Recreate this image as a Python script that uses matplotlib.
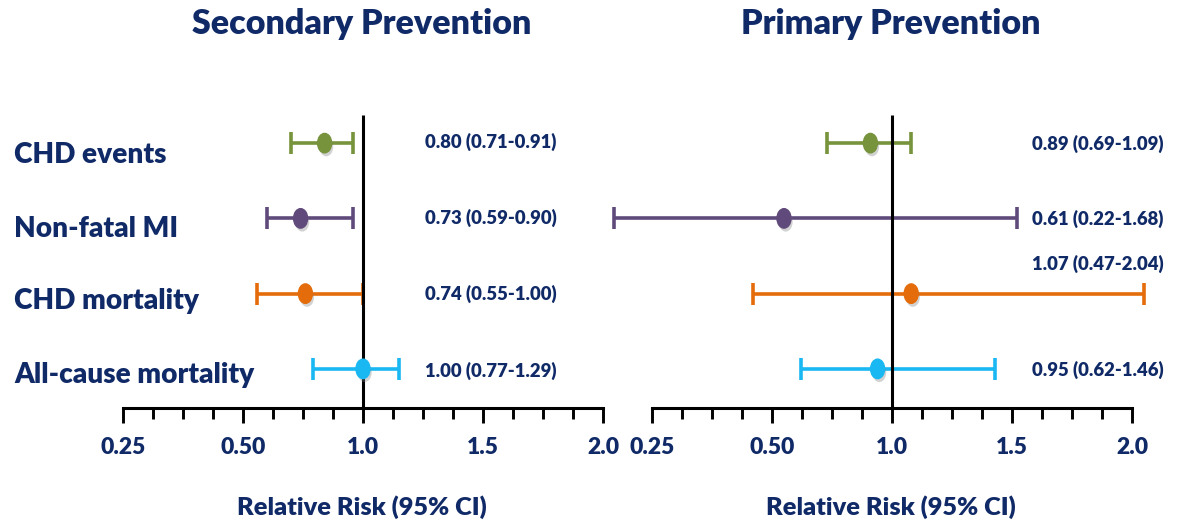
import numpy as np
import matplotlib
matplotlib.use("Agg")
import matplotlib.pyplot as plt
import matplotlib.patheffects as pe
from matplotlib.path import Path
from matplotlib.transforms import blended_transform_factory

# ---------------- data ----------------
outcomes = ["CHD events", "Non-fatal MI", "CHD mortality", "All-cause mortality"]
colors = ["#77933c", "#604a7b", "#e46c0a", "#1ab8f2"]

sec_est = [0.84, 0.74, 0.76, 1.00]
sec_lo = [0.70, 0.60, 0.56, 0.79]
sec_hi = [0.96, 0.96, 1.00, 1.15]
sec_text = ["0.80 (0.71-0.91)", "0.73 (0.59-0.90)", "0.74 (0.55-1.00)", "1.00 (0.77-1.29)"]

pri_est = [0.91, 0.55, 1.08, 0.94]
pri_lo = [0.73, 0.17, 0.46, 0.62]
pri_hi = [1.08, 1.52, 2.05, 1.43]
pri_text = ["0.89 (0.69-1.09)", "0.61 (0.22-1.68)", "1.07 (0.47-2.04)", "0.95 (0.62-1.46)"]

tick_values = [0.25, 0.5, 1.0, 1.5, 2.0]
tick_labels = ["0.25", "0.50", "1.0", "1.5", "2.0"]
titles = ["Secondary Prevention", "Primary Prevention"]
xlabel = "Relative Risk (95% CI)"

# ---------------- scale ----------------
KN = np.array(tick_values)
PS = np.arange(len(KN), dtype=float)

def fwd(x):
    x = np.asarray(x, dtype=float)
    out = np.interp(x, KN, PS)
    out = np.where(x < KN[0], (x - KN[0]) / (KN[1] - KN[0]), out)
    out = np.where(x > KN[-1], PS[-1] + (x - KN[-1]) / (KN[-1] - KN[-2]), out)
    return out

def inv(y):
    y = np.asarray(y, dtype=float)
    out = np.interp(y, PS, KN)
    out = np.where(y < 0, KN[0] + y * (KN[1] - KN[0]), out)
    out = np.where(y > PS[-1], KN[-1] + (y - PS[-1]) * (KN[-1] - KN[-2]), out)
    return out

minor_vals = []
for a, b in zip(KN[:-1], KN[1:]):
    for k in (1, 2, 3):
        minor_vals.append(a + (b - a) * k / 4)

NAVY = "#102a68"
FONT = "Lato"
WT = "heavy"
plt.rcParams["font.family"] = [FONT, "DejaVu Sans"]
plt.rcParams["font.weight"] = "bold"

W, H = 1178, 523
fig = plt.figure(figsize=(W / 100, H / 100), dpi=100)

def fx(px):
    return px / W

ax_bottom = (H - 408) / H
ax_height = 310 / H
ylim = (3.52, -0.6)
label_off = [0.16, 0.14, 0.1, 0.08]

panels = [
    dict(left=75, est=sec_est, lo=sec_lo, hi=sec_hi, text=sec_text, tx=425,
         toff=[-0.02, -0.01, 0.0, 0.03], title_x=362),
    dict(left=604, est=pri_est, lo=pri_lo, hi=pri_hi, text=pri_text, tx=1032,
         toff=[0.01, 0.01, -0.4, 0.02], title_x=891),
]

ell = Path.unit_circle()
ell = Path(ell.vertices * np.array([0.72, 1.0]), ell.codes)

for i, p in enumerate(panels):
    ax = fig.add_axes([fx(p["left"]), ax_bottom, fx(576), ax_height])
    ax.set_facecolor("none")
    ax.set_xscale("function", functions=(fwd, inv))
    ax.set_xlim(inv(-0.4), inv(4.4))
    ax.set_ylim(*ylim)
    for s in ("top", "right", "left"):
        ax.spines[s].set_visible(False)
    ax.spines["bottom"].set_bounds(KN[0], KN[-1])
    ax.spines["bottom"].set_linewidth(2.2)
    ax.set_yticks([])
    ax.set_xticks(tick_values)
    ax.set_xticklabels(tick_labels)
    ax.set_xticks(minor_vals, minor=True)
    ax.tick_params(axis="x", which="major", length=11, width=2.1, direction="out",
                   pad=10, labelsize=16.5, labelcolor=NAVY)
    ax.tick_params(axis="x", which="minor", length=8, width=2.1, direction="out")
    for lab in ax.get_xticklabels():
        lab.set_fontweight(WT)

    # reference line
    ax.plot([1.0, 1.0], [-0.37, ylim[0]], color="black", lw=2.2, zorder=3,
            solid_capstyle="butt")

    ys = np.arange(len(outcomes))
    for j in range(len(outcomes)):
        e, l, h = p["est"][j], p["lo"][j], p["hi"][j]
        ax.errorbar([e], [ys[j]], xerr=[[e - l], [h - e]], fmt="none",
                    ecolor=colors[j], elinewidth=2.6, capsize=8, capthick=2.6,
                    zorder=2, clip_on=False)
        ax.plot([e], [ys[j]], marker=ell, markersize=14, color=colors[j],
                linestyle="none", zorder=4, clip_on=False,
                path_effects=[pe.SimplePatchShadow(offset=(1.2, -2.5),
                                                   shadow_rgbFace="0.5", alpha=0.35),
                              pe.Normal()])

    tr = blended_transform_factory(fig.transFigure, ax.transData)
    for j in range(len(outcomes)):
        ax.text(fx(p["tx"]), ys[j] + p["toff"][j], p["text"][j], transform=tr,
                ha="left", va="center", fontsize=13.3, fontweight=WT,
                color=NAVY, clip_on=False)

    if i == 0:
        for j, name in enumerate(outcomes):
            ax.text(fx(14), ys[j] + label_off[j], name, transform=tr, ha="left",
                    va="center", fontsize=20.2, fontweight=WT, color=NAVY)

    fig.text(fx(p["title_x"]), 1 - 24 / H, titles[i], ha="center", va="center",
             fontsize=24.5, fontweight=WT, color=NAVY)
    fig.text(fx(p["title_x"]), 1 - 507 / H, xlabel, ha="center", va="center",
             fontsize=18.3, fontweight=WT, color=NAVY)

fig.savefig("out.png", dpi=100, facecolor="white")
